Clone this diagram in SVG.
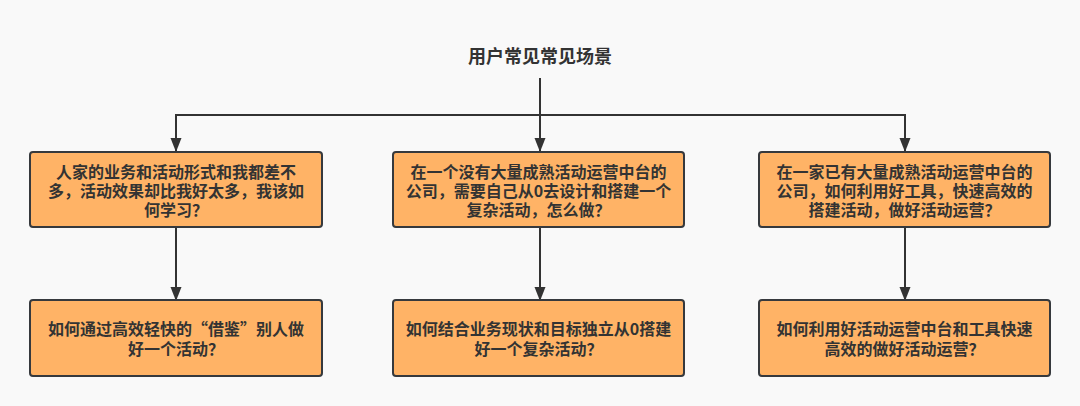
<svg xmlns="http://www.w3.org/2000/svg" width="1080" height="406" viewBox="0 0 1080 406">
<style>
.bg{fill:#f9f9f9}
.box{fill:#ffb366;stroke:#36393d;stroke-width:2}
.t{font-family:"Noto Sans CJK SC","Noto Sans",sans-serif;font-size:16px;font-weight:bold;fill:#333333;text-anchor:middle}
.title{font-size:18px}
.edge{fill:none;stroke:#333333;stroke-width:2}
</style>
<defs>
<marker id="arr" markerUnits="userSpaceOnUse" markerWidth="14" markerHeight="12" refX="13" refY="5.5" orient="auto" viewBox="0 0 14 12">
<path d="M0,0 L14,5.5 L0,11 z" fill="#333333"/>
</marker>
</defs>
<rect class="bg" x="0" y="0" width="1080" height="406"/>
<g id="edges">
<path class="edge" d="M540,78 V115"/>
<path class="edge" marker-end="url(#arr)" d="M540,115 H176 V151"/>
<path class="edge" marker-end="url(#arr)" d="M540,115 V151"/>
<path class="edge" marker-end="url(#arr)" d="M540,115 H905 V151"/>
<path class="edge" marker-end="url(#arr)" d="M176,227 V300"/>
<path class="edge" marker-end="url(#arr)" d="M540,227 V300"/>
<path class="edge" marker-end="url(#arr)" d="M905,227 V300"/>
</g>
<g id="title">
<text class="t title" x="540" y="63">用户常见常见场景</text>
</g>
<g id="n1">
<rect class="box" x="30" y="152" width="292" height="75" rx="3"/>
<text class="t" x="176" y="177.5">人家的业务和活动形式和我都差不</text>
<text class="t" x="176" y="197">多，活动效果却比我好太多，我该如</text>
<text class="t" x="176" y="216">何学习？</text>
</g>
<g id="n2">
<rect class="box" x="393" y="152" width="291" height="75" rx="3"/>
<text class="t" x="538.5" y="177.5">在一个没有大量成熟活动运营中台的</text>
<text class="t" x="538.5" y="197">公司，需要自己从0去设计和搭建一个</text>
<text class="t" x="538.5" y="216">复杂活动，怎么做？</text>
</g>
<g id="n3">
<rect class="box" x="759" y="152" width="291" height="75" rx="3"/>
<text class="t" x="904.5" y="177.5">在一家已有大量成熟活动运营中台的</text>
<text class="t" x="904.5" y="197">公司，如何利用好工具，快速高效的</text>
<text class="t" x="904.5" y="216">搭建活动，做好活动运营？</text>
</g>
<g id="n4">
<rect class="box" x="30" y="300" width="292" height="76" rx="3"/>
<text class="t" x="176" y="334.5">如何通过高效轻快的“借鉴”别人做</text>
<text class="t" x="176" y="354.5">好一个活动？</text>
</g>
<g id="n5">
<rect class="box" x="393" y="300" width="291" height="76" rx="3"/>
<text class="t" x="538.5" y="334.5">如何结合业务现状和目标独立从0搭建</text>
<text class="t" x="538.5" y="354.5">好一个复杂活动？</text>
</g>
<g id="n6">
<rect class="box" x="759" y="300" width="291" height="76" rx="3"/>
<text class="t" x="904.5" y="334.5">如何利用好活动运营中台和工具快速</text>
<text class="t" x="904.5" y="354.5">高效的做好活动运营？</text>
</g>
</svg>
